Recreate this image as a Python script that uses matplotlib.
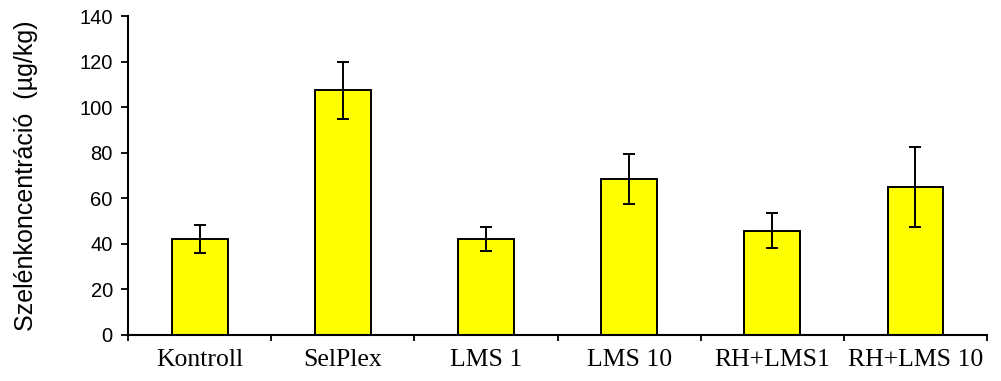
import matplotlib
matplotlib.use('Agg')
import matplotlib.pyplot as plt
import numpy as np

# adatok
categories = ['Kontroll', 'SelPlex', 'LMS 1', 'LMS 10', 'RH+LMS1', 'RH+LMS 10']
means = [42.2, 107.3, 42.1, 68.6, 45.8, 65.0]
errors = [6.2, 12.7, 5.3, 11.0, 7.8, 17.6]

fig = plt.figure(figsize=(10.01, 3.81), dpi=100)
ax = fig.add_axes([0.128, 0.121, 0.858, 0.837])

x = np.arange(len(categories))
ax.bar(x, means, width=0.39, color='#ffff00', edgecolor='black', linewidth=1.4,
       yerr=errors, capsize=4.4, error_kw=dict(elinewidth=1.4, capthick=1.4, ecolor='black'))

ax.set_xlim(-0.5, len(categories) - 0.5)
ax.set_ylim(0, 140)
ax.set_yticks(np.arange(0, 141, 20))

# x tengely: osztásjelek a kategóriahatárokon
ax.set_xticks(np.arange(-0.5, len(categories), 1.0))
ax.set_xticklabels([])
ax.set_xticks(x, minor=True)
ax.set_xticklabels(categories, minor=True, family='Liberation Serif', fontsize=18.5)
ax.tick_params(axis='x', which='minor', length=0, pad=10)
ax.tick_params(axis='x', which='major', length=4, width=1.3, direction='out')
ax.tick_params(axis='y', length=5, width=1.3, direction='out', pad=6, labelsize=14.5)
for lab in ax.get_yticklabels():
    lab.set_family('Liberation Sans')

ax.spines['top'].set_visible(False)
ax.spines['right'].set_visible(False)
ax.spines['left'].set_linewidth(1.5)
ax.spines['bottom'].set_linewidth(1.5)

ax.set_ylabel('Szelénkoncentráció  (µg/kg)', family='Liberation Sans', fontsize=18)
ax.yaxis.set_label_coords(-0.105, 0.5)

fig.savefig('out.png', dpi=100)
